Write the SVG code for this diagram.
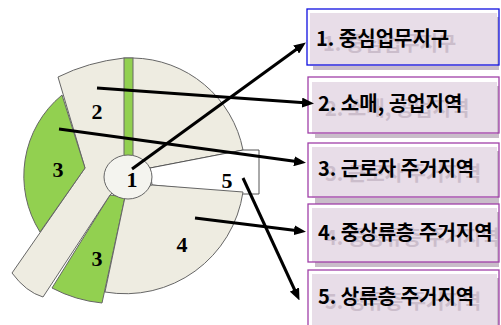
<svg xmlns="http://www.w3.org/2000/svg" width="501" height="325" viewBox="0 0 501 325">
<defs>
<style>
.beige{fill:#eeece1;stroke:#666;stroke-width:1}
.green{fill:#92d050;stroke:#666;stroke-width:1}
.num{font-family:"Liberation Serif",serif;font-weight:bold;font-size:22px;fill:#000;text-anchor:middle}
.lbl{font-family:"Noto Sans CJK KR",sans-serif;font-weight:bold;font-size:20px;fill:#000}
.ghost{font-family:"Noto Sans CJK KR",sans-serif;font-weight:bold;font-size:20px;fill:#bfb0bf;opacity:0.7}
.bfill{fill:#e8dde8}
.bshadow{fill:#c9bdc9}
.bborder{fill:none;stroke:#a040a8;stroke-width:1.3}
.conn{stroke:#000;stroke-width:3;fill:none;marker-end:url(#ah)}
</style>
<marker id="ah" markerUnits="userSpaceOnUse" markerWidth="12" markerHeight="10" refX="6" refY="5" orient="auto">
<path d="M0,0 L12,5 L0,10 Z" fill="#000"/>
</marker>
</defs>
<rect width="501" height="325" fill="#fff"/>
<g id="pie">
<path class="green" d="M110,195 L125,197 L102,303 A135,135 0 0,1 52,288 Z"/>
<path class="beige" d="M58,77 Q88,62 124,58 L133,58 A114,114 0 0,1 243,150 L150,168 L128,177 L110,195 L43,297 Q26,292 12,273 L85,168 Z"/>
<path class="green" d="M62,95 A105,105 0 0,0 40,232 L85,168 Z"/>
<rect class="green" x="124" y="58" width="9" height="100"/>
<path d="M150,168 L243,150 L259,150 L259,194 L243,194 L152,185 Z" fill="#fff" stroke="#555" stroke-width="1"/>
<path class="beige" d="M152,185 L243,192 A119,119 0 0,1 105,292 L125,197 Z"/>
<ellipse cx="128" cy="177" rx="24" ry="22" fill="#f4f4ef" stroke="#666" stroke-width="1"/>
<text class="num" x="97" y="119">2</text>
<text class="num" x="58" y="177">3</text>
<text class="num" x="132" y="187">1</text>
<text class="num" x="227" y="188">5</text>
<text class="num" x="182" y="252">4</text>
<text class="num" x="97" y="266">3</text>
</g>
<g id="box1">
<rect class="bshadow" x="313" y="17" width="186" height="53"/>
<rect class="bfill" x="310" y="13" width="187" height="53"/>
<rect x="307" y="9" width="192" height="56" fill="none" stroke="#1010e0" stroke-width="1.3"/>
<text class="ghost" x="323" y="51">1. 중심업무지구</text>
<text class="lbl" x="316" y="46">1. 중심업무지구</text>
</g>
<g id="box2">
<rect class="bshadow" x="315" y="86" width="184" height="52"/>
<rect class="bfill" x="312" y="82" width="185" height="52"/>
<rect class="bborder" x="308" y="77" width="191" height="56"/>
<text class="ghost" x="325" y="116">2. 소매, 공업지역</text>
<text class="lbl" x="318" y="111">2. 소매, 공업지역</text>
</g>
<g id="box3">
<rect class="bshadow" x="315" y="151" width="184" height="53"/>
<rect class="bfill" x="312" y="147" width="185" height="51"/>
<rect class="bborder" x="308" y="143" width="191" height="54"/>
<text class="ghost" x="325" y="181">3. 근로자 주거지역</text>
<text class="lbl" x="318" y="176">3. 근로자 주거지역</text>
</g>
<g id="box4">
<rect class="bshadow" x="315" y="212" width="184" height="55"/>
<rect class="bfill" x="312" y="208" width="185" height="54"/>
<rect class="bborder" x="308" y="204" width="191" height="58"/>
<text class="ghost" x="325" y="245">4. 중상류층 주거지역</text>
<text class="lbl" x="318" y="240">4. 중상류층 주거지역</text>
</g>
<g id="box5">
<rect class="bshadow" x="315" y="278" width="184" height="50"/>
<rect class="bfill" x="312" y="274" width="185" height="55"/>
<rect class="bborder" x="308" y="270" width="191" height="60"/>
<text class="ghost" x="325" y="309">5. 상류층 주거지역</text>
<text class="lbl" x="318" y="304">5. 상류층 주거지역</text>
</g>
<g id="connectors">
<line class="conn" x1="132" y1="169" x2="301" y2="46"/>
<line class="conn" x1="97" y1="88" x2="308" y2="103"/>
<line class="conn" x1="59" y1="129" x2="300" y2="162"/>
<line class="conn" x1="195" y1="218" x2="300" y2="231"/>
<line class="conn" x1="243" y1="178" x2="297" y2="295"/>
</g>
</svg>
